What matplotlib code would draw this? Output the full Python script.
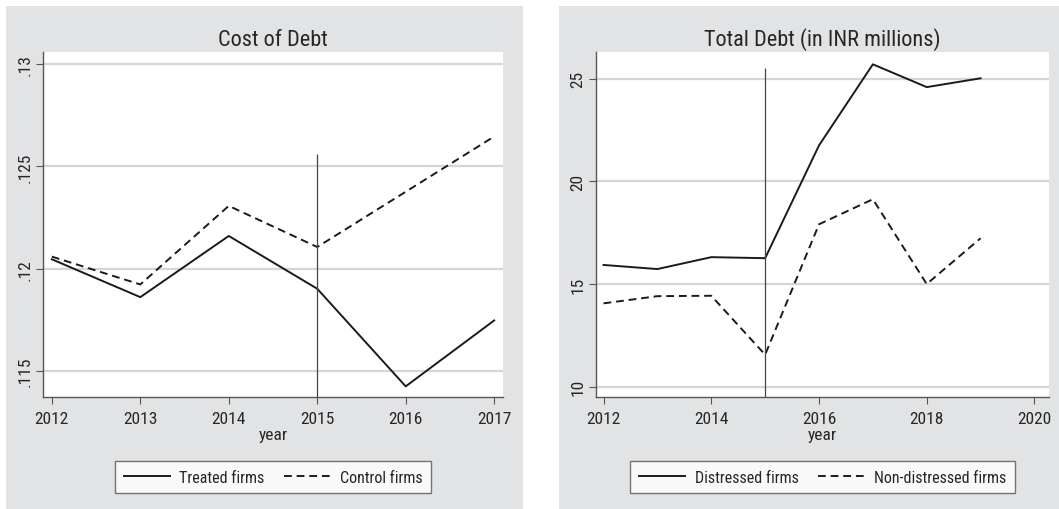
import matplotlib.pyplot as plt
from matplotlib.patches import Rectangle

plt.rcParams['font.family'] = ['Roboto Condensed', 'Liberation Sans', 'DejaVu Sans']

# Cost of Debt panel
years_cod = [2012, 2013, 2014, 2015, 2016, 2017]
treated = [0.12046, 0.11861, 0.12160, 0.11902, 0.11425, 0.11747]
control = [0.12059, 0.11923, 0.12307, 0.12106, 0.12376, 0.12646]
cod_ticks = [0.115, 0.12, 0.125, 0.13]
cod_ticklabels = ['.115', '.12', '.125', '.13']

# Total Debt panel
years_td = [2012, 2013, 2014, 2015, 2016, 2017, 2018, 2019]
distressed = [15.93, 15.73, 16.31, 16.26, 21.75, 25.70, 24.59, 25.02]
non_distressed = [14.06, 14.41, 14.43, 11.56, 17.91, 19.13, 15.00, 17.23]
td_ticks = [10, 15, 20, 25]
td_xticks = [2012, 2014, 2016, 2018, 2020]

W, H = 1059, 510
fig = plt.figure(figsize=(W / 100, H / 100), dpi=100)
fig.patch.set_facecolor('white')

bg = '#e2e3e5'
fig.patches.append(Rectangle((6 / W, 0), 517 / W, 503 / H, transform=fig.transFigure,
                             facecolor=bg, edgecolor='none', zorder=-5))
fig.patches.append(Rectangle((559 / W, 0), 500 / W, 503 / H, transform=fig.transFigure,
                             facecolor=bg, edgecolor='none', zorder=-5))

TXT = '#262626'


def style(ax):
    ax.set_facecolor('white')
    for s in ['top', 'right']:
        ax.spines[s].set_visible(False)
    for s in ['left', 'bottom']:
        ax.spines[s].set_color('#555555')
        ax.spines[s].set_linewidth(1.0)
    ax.tick_params(direction='out', length=5, color='#555555', labelsize=12.5, labelcolor=TXT)
    ax.tick_params(axis='x', pad=5)
    ax.tick_params(axis='y', pad=2.5)
    ax.grid(axis='y', color='#d6d6d6', linewidth=1.6)
    ax.set_axisbelow(True)
    for lab in ax.get_yticklabels():
        lab.set_rotation(90)
        lab.set_va('center')
    ax.set_xlabel('year', fontsize=12.5, color=TXT, labelpad=1)


def add_legend(ax):
    leg = ax.legend(loc='upper center', bbox_to_anchor=(0.5, -0.162), ncol=2, frameon=True,
                    fancybox=False, edgecolor='#555555', fontsize=11.5, handlelength=2.9,
                    handletextpad=0.6, columnspacing=1.2, borderpad=0.55)
    leg.get_frame().set_linewidth(1.0)
    for t in leg.get_texts():
        t.set_color(TXT)


# left panel
ax1 = fig.add_axes([43 / W, (H - 398) / H, 460 / W, 345 / H])
ax1.plot(years_cod, treated, color='#1a1a1a', lw=1.4, label='Treated firms')
ax1.plot(years_cod, control, color='#1a1a1a', lw=1.4, ls=(0, (4, 2.5)), label='Control firms')
ax1.set_xlim(2011.9, 2017.1)
ax1.set_ylim(0.11373, 0.13059)
ax1.vlines(2015, 0.11373, 0.12559, color='#444444', lw=0.9)
ax1.set_xticks(years_cod)
ax1.set_yticks(cod_ticks)
ax1.set_yticklabels(cod_ticklabels)
ax1.set_title('Cost of Debt', fontsize=16, color=TXT, pad=5)
style(ax1)
add_legend(ax1)

# right panel
ax2 = fig.add_axes([596 / W, (H - 398) / H, 453 / W, 345 / H])
ax2.plot(years_td, distressed, color='#1a1a1a', lw=1.4, label='Distressed firms')
ax2.plot(years_td, non_distressed, color='#1a1a1a', lw=1.4, ls=(0, (4, 2.5)), label='Non-distressed firms')
ax2.set_xlim(2011.86, 2020.27)
ax2.set_ylim(9.5, 26.3)
ax2.vlines(2015, 9.5, 25.54, color='#444444', lw=0.9)
ax2.set_xticks(td_xticks)
ax2.set_yticks(td_ticks)
ax2.set_title('Total Debt (in INR millions)', fontsize=16, color=TXT, pad=5)
style(ax2)
add_legend(ax2)

fig.savefig('out.png', dpi=100)
